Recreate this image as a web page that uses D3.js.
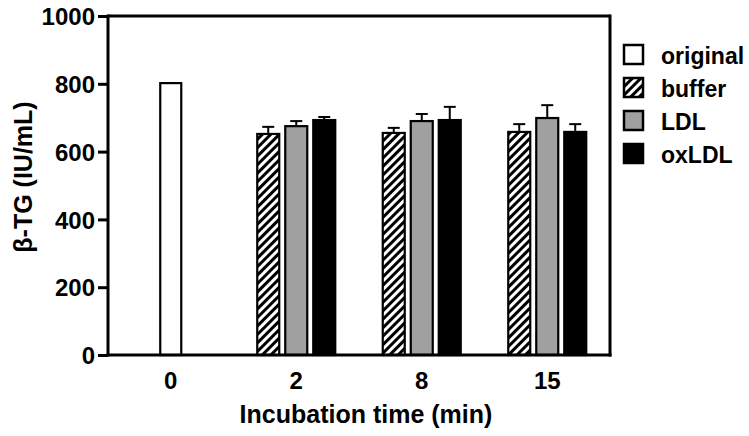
<!DOCTYPE html>
<html><head><meta charset="utf-8">
<script src="https://cdn.jsdelivr.net/npm/d3@7/dist/d3.min.js"></script>
<style>body{margin:0;background:#fff}svg{display:block}text{font-family:"Liberation Sans",Arial,sans-serif;fill:#000}</style>
</head><body><svg id="c" width="749" height="436"></svg>
<script>
const categories = ["0","2","8","15"];
const seriesNames = ["original","buffer","LDL","oxLDL"];
const original = [805, null, null, null];
const buffer = [null, 655, 658, 661];
const bufferErr = [null, 18, 12, 20];
const ldl = [null, 678, 693, 702];
const ldlErr = [null, 12, 18, 35];
const oxldl = [null, 696, 696, 661];
const oxldlErr = [null, 6, 36, 20];
const yTicks = [0,200,400,600,800,1000];

const svg = d3.select("#c");
const defs = svg.append("defs");
const pat = defs.append("pattern").attr("id","hatch").attr("patternUnits","userSpaceOnUse")
  .attr("width",6).attr("height",6).attr("patternTransform","rotate(45)");
pat.append("rect").attr("width",6).attr("height",6).attr("fill","#000");
pat.append("rect").attr("x",0).attr("width",3).attr("height",6).attr("fill","#fff");

const L=108,R=610,T=16,B=355;
const FF = "Liberation Sans, Arial, sans-serif";
const x = d3.scaleBand().domain(categories).range([L,R]);
const y = d3.scaleLinear().domain([0,1000]).range([B,T]);
const fills = {original:"#fff", buffer:"url(#hatch)", LDL:"#a0a0a0", oxLDL:"#000"};
const bw = 24, gap = 28;

const g = svg.append("g");
const rows = [];
categories.forEach((c,i)=>{
  if(original[i]!=null) rows.push({c,s:"original",v:original[i],e:null,off:0,w:23});
  if(buffer[i]!=null){
    rows.push({c,s:"buffer",v:buffer[i],e:bufferErr[i],off:-gap,w:bw});
    rows.push({c,s:"LDL",v:ldl[i],e:ldlErr[i],off:0,w:bw});
    rows.push({c,s:"oxLDL",v:oxldl[i],e:oxldlErr[i],off:gap,w:bw});
  }
});
rows.forEach(d=>{
  const cx = x(d.c)+x.bandwidth()/2+d.off;
  if(d.e!=null){
    g.append("line").attr("x1",cx).attr("x2",cx).attr("y1",y(d.v)).attr("y2",y(d.v+d.e)).attr("stroke","#000").attr("stroke-width",2);
    g.append("line").attr("x1",cx-6).attr("x2",cx+6).attr("y1",y(d.v+d.e)).attr("y2",y(d.v+d.e)).attr("stroke","#000").attr("stroke-width",2);
  }
  g.append("rect").attr("x",cx-d.w/2+1).attr("y",y(d.v)+1).attr("width",d.w-2).attr("height",y(0)-y(d.v)-1)
    .attr("fill",fills[d.s]).attr("stroke","#000").attr("stroke-width",2.2);
});

svg.append("line").attr("x1",L).attr("x2",R).attr("y1",T).attr("y2",T).attr("stroke","#000").attr("stroke-width",3);
svg.append("line").attr("x1",R).attr("x2",R).attr("y1",T-1.5).attr("y2",B+1.5).attr("stroke","#000").attr("stroke-width",3);

const ya = svg.append("g").attr("transform",`translate(${L},0)`)
  .call(d3.axisLeft(y).tickValues(yTicks).tickSize(10).tickPadding(3).tickFormat(d3.format("d")));
ya.select(".domain").attr("stroke-width",3).attr("d",`M0,${T-1.5}V${B+1.5}`);
ya.selectAll(".tick line").attr("stroke-width",3);
ya.selectAll("text").attr("font-size",24).attr("font-weight","bold").attr("dy","0.36em").style("font-family",FF);

const xa = svg.append("g").attr("transform",`translate(0,${B})`)
  .call(d3.axisBottom(x).tickSize(0).tickPadding(17));
xa.select(".domain").attr("stroke-width",3).attr("d",`M${L-1.5},0H${R+1.5}`);
xa.selectAll("text").attr("font-size",24).attr("font-weight","bold").style("font-family",FF);

svg.append("text").attr("x",366).attr("y",423).attr("text-anchor","middle").attr("font-size",25).attr("font-weight","bold").text("Incubation time (min)");
svg.append("text").attr("transform",`translate(32,177) rotate(-90)`).attr("text-anchor","middle").attr("font-size",25).attr("font-weight","bold").text("β-TG (IU/mL)");

const lg = svg.append("g");
seriesNames.forEach((s,i)=>{
  const yy = 45+i*33;
  lg.append("rect").attr("x",624).attr("y",yy).attr("width",19).attr("height",19).attr("fill",fills[s]).attr("stroke","#000").attr("stroke-width",2.5);
  lg.append("text").attr("x",661).attr("y",yy+11).attr("dy","0.35em").attr("font-size",23).attr("font-weight","bold").text(s);
});
</script></body></html>
